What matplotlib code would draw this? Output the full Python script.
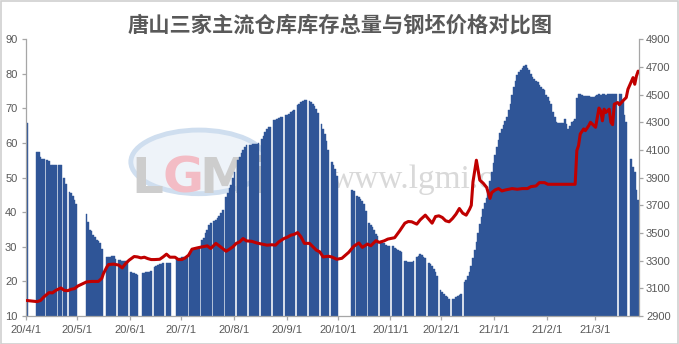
import datetime as dt
import matplotlib
matplotlib.use("Agg")
import matplotlib.pyplot as plt
from matplotlib.patches import Ellipse, Rectangle

plt.rcParams['font.family'] = ['Liberation Sans', 'DejaVu Sans']

# ---------------- data ----------------
title = "唐山三家主流仓库库存总量与钢坯价格对比图"
start_date = "2020-04-01"
axis_days = 360

# inventory (left axis): blocks of consecutive daily values, given by first date
inv_block_starts = [
    "2020-04-01", "2020-04-07", "2020-04-13", "2020-04-20", "2020-04-23", "2020-04-26",
    "2020-05-06", "2020-05-18", "2020-05-25", "2020-06-01", "2020-06-08", "2020-06-15",
    "2020-06-22", "2020-06-28", "2020-07-06", "2020-07-13", "2020-07-20", "2020-07-27",
    "2020-08-03", "2020-08-10", "2020-08-17", "2020-08-24", "2020-08-31", "2020-09-07",
    "2020-09-14", "2020-09-21", "2020-09-27", "2020-10-09", "2020-10-12", "2020-10-19",
    "2020-10-26", "2020-11-02", "2020-11-09", "2020-11-16", "2020-11-23", "2020-11-30",
    "2020-12-07", "2020-12-14", "2021-03-15", "2021-03-22",
]
inv_block_values = [
    [65.8],
    [57.4, 57.4, 56.0, 55.4, 55.3],
    [55.0, 54.9, 53.8, 53.7, 53.7, 53.7],
    [53.7, 53.7],
    [49.8, 48.1],
    [45.8, 45.5, 44.6, 43.5, 42.5],
    [39.5, 37.2, 35.0, 34.5, 33.5, 32.7, 32.0, 31.6, 31.2, 29.4],
    [27.2, 27.2, 27.0, 27.3, 27.3, 26.6],
    [26.1, 26.1, 26.0, 25.9, 25.8, 25.8],
    [22.7, 22.5, 22.3, 22.0, 21.8],
    [22.3, 22.5, 22.7, 22.7, 22.8, 22.9],
    [24.2, 24.5, 24.8, 25.0, 25.1, 25.2],
    [25.4, 25.4, 25.3],
    [26.4, 26.6, 26.8, 27.0, 27.0, 27.2, 27.3],
    [28.0, 28.8, 29.3, 29.6, 29.8, 30.0],
    [32.0, 32.5, 33.9, 35.0, 36.3, 36.8],
    [37.5, 37.7, 38.2, 39.0, 39.8, 40.6],
    [44.5, 45.5, 47.0, 48.0, 49.8, 51.5],
    [55.0, 56.0, 57.0, 58.0, 59.0, 59.4],
    [59.4, 59.5, 59.6, 59.7, 59.8, 59.9],
    [61.3, 62.0, 63.2, 64.0, 64.5, 64.7],
    [66.6, 66.8, 67.0, 67.2, 67.4, 67.6],
    [68.0, 68.2, 68.5, 69.0, 69.3, 69.5],
    [71.0, 71.4, 71.8, 72.2, 72.4, 72.4],
    [72.2, 71.8, 71.4, 70.8, 69.8, 68.8],
    [65.6, 64.0, 62.5, 60.5, 58.0],
    [54.6, 53.7, 52.5, 50.5],
    [46.3, 46.0],
    [44.8, 44.3, 43.9, 43.2, 42.5, 40.5],
    [37.0, 36.4, 35.7, 34.8, 33.8, 33.2],
    [31.6, 31.2, 31.0, 30.5, 30.3, 30.2],
    [30.2, 29.8, 29.3, 29.0, 28.8, 28.6],
    [25.8, 25.8, 25.7, 25.7, 25.7, 25.8],
    [27.1, 27.3, 28.0, 27.6, 27.2, 26.7],
    [25.4, 25.1, 24.5, 23.7, 22.8, 21.7],
    [17.4, 16.8, 16.4, 15.8, 15.5, 15.0],
    [15.0, 15.0, 15.5, 15.8, 16.2, 16.4],
    [19.8, 20.5, 21.5, 22.7, 24.5, 26.8, 29.0, 31.4, 34.0, 36.5, 38.5, 41.0, 42.8, 44.0,
     46.3, 49.0, 51.5, 54.1,
     56.5, 58.9, 61.0, 62.8, 64.0, 65.2, 66.4, 67.6, 69.5, 71.4, 74.0, 76.2, 78.0, 79.6,
     80.5, 81.0, 81.8, 82.2, 82.5, 81.8, 81.0, 80.1, 79.2, 78.6, 78.0, 77.7, 76.8, 76.2,
     75.6, 75.3, 74.0,
     73.3, 72.3, 71.4, 69.0, 67.6, 66.2, 65.7, 65.8, 65.8, 65.8, 67.1, 65.5, 64.2, 65.0,
     66.1, 66.5, 67.1, 72.9, 74.1, 74.1, 73.8, 73.6, 73.6, 73.5, 73.5, 73.4, 73.3, 73.3,
     73.5, 73.8, 74.2, 74.0, 74.1, 74.1, 74.0, 74.2, 74.1, 74.1, 74.2, 74.2, 74.1],
    [74.3, 74.3, 72.4, 68.0, 66.1],
    [55.3, 53.0, 51.7, 46.5, 43.5],
]

# billet price (right axis)
price_dates = [
    "2020-04-01", "2020-04-07", "2020-04-09", "2020-04-11", "2020-04-14", "2020-04-16",
    "2020-04-18", "2020-04-21", "2020-04-23", "2020-04-25", "2020-04-27", "2020-04-29",
    "2020-05-01", "2020-05-04", "2020-05-06", "2020-05-09", "2020-05-13", "2020-05-15",
    "2020-05-16", "2020-05-18", "2020-05-19", "2020-05-22", "2020-05-25", "2020-05-27",
    "2020-05-29", "2020-05-31", "2020-06-03", "2020-06-05", "2020-06-07", "2020-06-09",
    "2020-06-11", "2020-06-13", "2020-06-15", "2020-06-18", "2020-06-20", "2020-06-22",
    "2020-06-24", "2020-06-27", "2020-06-29", "2020-07-01", "2020-07-03", "2020-07-05",
    "2020-07-07", "2020-07-10", "2020-07-13", "2020-07-16", "2020-07-18", "2020-07-21",
    "2020-07-23", "2020-07-25", "2020-07-27", "2020-07-29", "2020-07-31", "2020-08-02",
    "2020-08-04", "2020-08-06", "2020-08-08", "2020-08-11", "2020-08-14", "2020-08-17",
    "2020-08-20", "2020-08-23", "2020-08-25", "2020-08-27", "2020-08-30", "2020-09-01",
    "2020-09-03", "2020-09-05", "2020-09-07", "2020-09-09", "2020-09-11", "2020-09-14",
    "2020-09-16", "2020-09-18", "2020-09-20", "2020-09-22", "2020-09-25", "2020-09-27",
    "2020-09-30", "2020-10-03", "2020-10-07", "2020-10-10", "2020-10-13", "2020-10-15",
    "2020-10-18", "2020-10-20", "2020-10-23", "2020-10-25", "2020-10-28", "2020-10-30",
    "2020-11-01", "2020-11-03", "2020-11-06", "2020-11-09", "2020-11-11", "2020-11-13",
    "2020-11-16", "2020-11-18", "2020-11-21", "2020-11-23", "2020-11-25", "2020-11-27",
    "2020-11-29", "2020-12-01", "2020-12-03", "2020-12-05", "2020-12-07", "2020-12-09",
    "2020-12-11", "2020-12-13", "2020-12-15", "2020-12-17", "2020-12-18", "2020-12-19",
    "2020-12-21", "2020-12-23", "2020-12-25", "2020-12-27", "2020-12-29", "2020-12-30",
    "2021-01-01", "2021-01-03", "2021-01-05", "2021-01-07", "2021-01-09", "2021-01-11",
    "2021-01-14", "2021-01-17", "2021-01-20", "2021-01-22", "2021-01-25", "2021-01-27",
    "2021-01-30", "2021-02-01", "2021-02-17", "2021-02-18", "2021-02-19", "2021-02-20",
    "2021-02-22", "2021-02-23", "2021-02-25", "2021-02-26", "2021-02-28", "2021-03-01",
    "2021-03-03", "2021-03-04", "2021-03-05", "2021-03-06", "2021-03-07", "2021-03-09",
    "2021-03-10", "2021-03-11", "2021-03-12", "2021-03-14", "2021-03-15", "2021-03-17",
    "2021-03-19", "2021-03-20", "2021-03-22", "2021-03-23", "2021-03-24", "2021-03-25",
    "2021-03-26",
]
price_values = [
    3012, 3004, 3012, 3038, 3069, 3067,
    3085, 3103, 3085, 3083, 3093, 3098,
    3117, 3134, 3146, 3150, 3150, 3172,
    3207, 3255, 3272, 3275, 3268, 3248,
    3279, 3303, 3330, 3327, 3320, 3325,
    3315, 3308, 3308, 3310, 3327, 3347,
    3325, 3325, 3308, 3308, 3320, 3340,
    3383, 3392, 3400, 3407, 3388, 3425,
    3407, 3388, 3368, 3383, 3400, 3425,
    3436, 3460, 3443, 3440, 3428, 3420,
    3412, 3415, 3412, 3436, 3460, 3470,
    3484, 3490, 3503, 3472, 3425, 3425,
    3400, 3376, 3364, 3327, 3332, 3327,
    3310, 3317, 3360, 3404, 3428, 3396,
    3420, 3408, 3444, 3432, 3444, 3456,
    3461, 3466, 3516, 3571, 3583, 3581,
    3564, 3595, 3629, 3600, 3571, 3619,
    3624, 3612, 3588, 3581, 3605, 3636,
    3677, 3643, 3629, 3672, 3700, 3870,
    4026, 3882, 3860, 3830, 3750, 3792,
    3811, 3821, 3804, 3811, 3816, 3821,
    3816, 3821, 3821, 3835, 3840, 3864,
    3864, 3852, 3852, 4096, 4132, 4216,
    4252, 4240, 4276, 4300, 4276, 4264,
    4403, 4383, 4311, 4395, 4371, 4395,
    4300, 4283, 4431, 4443, 4427, 4455,
    4479, 4539, 4594, 4623, 4575, 4635,
    4670,
]

tick_dates = ["2020-04-01", "2020-05-01", "2020-06-01", "2020-07-01", "2020-08-01",
              "2020-09-01", "2020-10-01", "2020-11-01", "2020-12-01", "2021-01-01",
              "2021-02-01", "2021-03-01"]
tick_labels = ["20/4/1", "20/5/1", "20/6/1", "20/7/1", "20/8/1", "20/9/1", "20/10/1",
               "20/11/1", "20/12/1", "21/1/1", "21/2/1", "21/3/1"]
left_ticks = [10, 20, 30, 40, 50, 60, 70, 80, 90]
right_ticks = [2900, 3100, 3300, 3500, 3700, 3900, 4100, 4300, 4500, 4700, 4900]

# ---------------- helpers ----------------
d0 = dt.date.fromisoformat(start_date)


def day_of(s):
    return (dt.date.fromisoformat(s) - d0).days


bar_x, bar_h = [], []
for s, vals in zip(inv_block_starts, inv_block_values):
    base = day_of(s)
    for i, v in enumerate(vals):
        bar_x.append(base + i + 0.5)
        bar_h.append(v)

line_x = [day_of(s) + 0.5 for s in price_dates]

# ---------------- figure ----------------
W, H = 679, 344
fig = plt.figure(figsize=(W / 100, H / 100), dpi=100)
L, R, T, B = 26, 639, 39.3, 316
ax = fig.add_axes([L / W, (H - B) / H, (R - L) / W, (B - T) / H])

grey = '#a6a6a6'
txt = '#595959'
blue = '#2F5597'

# watermark (behind bars)
ax.add_patch(Ellipse((0.282, 0.557), 0.222, 0.23, transform=ax.transAxes,
                     facecolor='#eef3f9', edgecolor='#cfdeef', lw=3.5, zorder=0.3))
for ch, xp, col in [("L", 0.198, '#cdcdcd'), ("G", 0.256, '#f3bcc5'),
                    ("M", 0.324, '#cdcdcd'), ("i", 0.378, '#cdcdcd')]:
    ax.text(xp, 0.445, ch, transform=ax.transAxes, fontsize=36, fontweight='bold',
            color=col, ha='center', va='baseline', zorder=0.5,
            family=['DejaVu Sans'])
ax.text(0.497, 0.463, "www.lgmi.com", transform=ax.transAxes, fontsize=24,
        color='#d9d9d9', ha='left', va='baseline', zorder=0.5,
        family=['Liberation Serif', 'DejaVu Serif'])

ax.bar(bar_x, bar_h, width=1.0, color=blue, edgecolor=blue, linewidth=0.3, zorder=2)
ax.set_xlim(0, axis_days)
ax.set_ylim(10, 90)
ax.set_yticks(left_ticks)
ax.set_xticks([day_of(s) for s in tick_dates])
ax.set_xticklabels(tick_labels)

ax2 = ax.twinx()
ax2.plot(line_x, price_values, color='#C00000', lw=2.2, solid_joinstyle='round',
         solid_capstyle='round', zorder=3)
ax2.set_ylim(2900, 4900)
ax2.set_yticks(right_ticks)
ax2.set_xlim(0, axis_days)

for a in (ax, ax2):
    a.spines['top'].set_visible(False)
    for sp in a.spines.values():
        sp.set_color(grey)
        sp.set_linewidth(0.9)
ax.spines['right'].set_visible(False)
ax2.spines['left'].set_visible(False)
ax2.spines['bottom'].set_visible(False)

ax.tick_params(axis='y', direction='out', length=3, width=0.9, color=grey,
               labelcolor=txt, labelsize=8, pad=3.2)
ax.tick_params(axis='x', direction='out', length=3, width=0.9, color=grey,
               labelcolor=txt, labelsize=8, pad=3.5)
ax2.tick_params(axis='y', direction='out', length=3, width=0.9, color=grey,
                labelcolor=txt, labelsize=8, pad=2)

fig.text(340 / W, 1 - 25 / H, title, ha='center', va='center', fontsize=15.3,
         fontweight='bold', color=txt, family=['Noto Sans CJK SC', 'DejaVu Sans'])

fig.add_artist(Rectangle((0.5 / W, 0.5 / H), 1 - 1.5 / W, 1 - 1.5 / H,
                         transform=fig.transFigure, fill=False,
                         edgecolor='#d0d0d0', lw=1.2))

fig.savefig("out.png", dpi=100, facecolor='white')
